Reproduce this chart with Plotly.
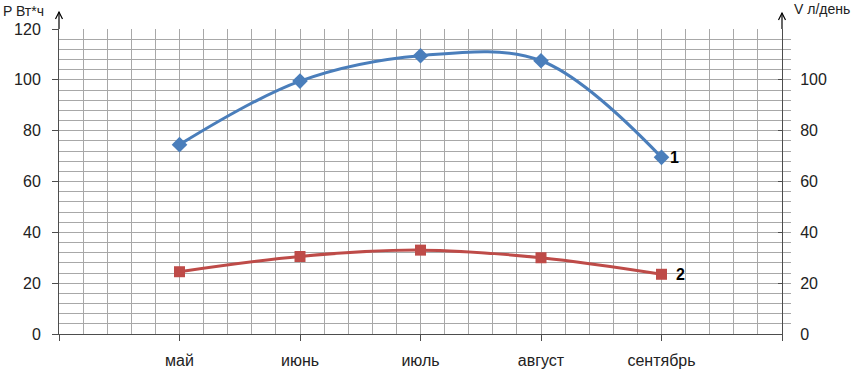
import plotly.graph_objects as go

months = ["май", "июнь", "июль", "август", "сентябрь"]
power = [74.5, 99.5, 109.5, 107.5, 69.5]      # P, Вт*ч (series 1)
volume = [24.5, 30.5, 33, 30, 23.5]           # V, л/день (series 2)
left_ticks = [0, 20, 40, 60, 80, 100, 120]
right_ticks = [0, 20, 40, 60, 80, 100]
series_labels = ["1", "2"]

x = list(range(1, len(months) + 1))

BLUE = "#4A7EBB"
RED = "#BE4B48"
GRID = "#a8a8a8"
AXIS = "#4d4d4d"
FONT = "Liberation Sans"

W, H = 863, 372
L, T = 59, 29
pw, ph = 723, 305
R, B = W - L - pw, H - T - ph

fig = go.Figure()
fig.add_trace(go.Scatter(
    x=x, y=power, mode="lines+markers", yaxis="y",
    line=dict(color=BLUE, width=3, shape="spline", smoothing=1),
    marker=dict(symbol="diamond", size=12, color=BLUE),
    showlegend=False, hoverinfo="skip"))
fig.add_trace(go.Scatter(
    x=x, y=volume, mode="lines+markers", yaxis="y2",
    line=dict(color=RED, width=3, shape="spline", smoothing=1),
    marker=dict(symbol="square", size=11, color=RED),
    showlegend=False, hoverinfo="skip"))

annotations = [
    dict(x=x[-1], y=power[-1], xref="x", yref="y", text="<b>" + series_labels[0] + "</b>",
         showarrow=False, xanchor="left", xshift=6, font=dict(size=16, color="black", family=FONT)),
    dict(x=x[-1], y=volume[-1], xref="x", yref="y2", text="<b>" + series_labels[1] + "</b>",
         showarrow=False, xanchor="left", xshift=12, font=dict(size=16, color="black", family=FONT)),
    dict(x=(1 - L) / pw, y=1 + (T - 11) / ph, xref="paper", yref="paper", text="P Вт*ч",
         showarrow=False, xanchor="left", yanchor="middle", font=dict(size=14, color="#222", family=FONT)),
    dict(x=(792 - L) / pw, y=1 + (T - 9) / ph, xref="paper", yref="paper", text="V л/день",
         showarrow=False, xanchor="left", yanchor="middle", font=dict(size=14, color="#222", family=FONT)),
]

def arrow(xp, tip_px):
    ty = 1 + (T - tip_px) / ph
    dx = 3.5 / pw
    dy = 7 / ph
    return [
        dict(type="line", xref="paper", yref="paper", x0=xp, x1=xp, y0=1, y1=ty,
             line=dict(color="black", width=1.2)),
        dict(type="path", xref="paper", yref="paper",
             path=f"M {xp-dx} {ty-dy} L {xp} {ty} L {xp+dx} {ty-dy}",
             line=dict(color="black", width=1.2)),
    ]

shapes = arrow(0, 12) + arrow(1, 13)

fig.update_layout(
    width=W, height=H,
    margin=dict(l=L, r=R, t=T, b=B, pad=0, autoexpand=False),
    paper_bgcolor="white", plot_bgcolor="white",
    font=dict(family=FONT, size=16, color="#222"),
    annotations=annotations, shapes=shapes,
    xaxis=dict(
        range=[0, 6], tickmode="array", tickvals=list(range(0, len(months) + 2)),
        ticktext=[""] + months + [""], automargin=False,
        showgrid=True, gridcolor=GRID, gridwidth=1,
        minor=dict(tickmode="linear", tick0=0, dtick=0.2, showgrid=True, gridcolor=GRID, gridwidth=1),
        ticks="outside", ticklen=6, tickcolor=AXIS, ticklabelstandoff=6,
        showline=True, linecolor=AXIS, linewidth=1, zeroline=False, fixedrange=True),
    yaxis=dict(
        range=[0, 120], tickmode="array", tickvals=left_ticks, automargin=False,
        showgrid=True, gridcolor=GRID, gridwidth=1,
        minor=dict(tickmode="linear", tick0=0, dtick=4, showgrid=True, gridcolor=GRID, gridwidth=1),
        ticks="outside", ticklen=6, tickcolor=AXIS, ticklabelstandoff=8,
        showline=True, linecolor=AXIS, linewidth=1, zeroline=False, fixedrange=True),
    yaxis2=dict(
        overlaying="y", side="right", automargin=False,
        range=[0, 120], tickmode="array", tickvals=right_ticks,
        showgrid=False,
        minor=dict(tickmode="linear", tick0=0, dtick=4, ticks="outside", ticklen=8,
                   tickcolor=GRID, showgrid=False),
        ticks="inside", ticklen=4, tickcolor=AXIS, ticklabelstandoff=14,
        showline=True, linecolor=AXIS, linewidth=1, zeroline=False, fixedrange=True),
)

fig.write_html("out.html", config={"displayModeBar": False, "staticPlot": True},
               post_script="document.body.style.margin='0';")
